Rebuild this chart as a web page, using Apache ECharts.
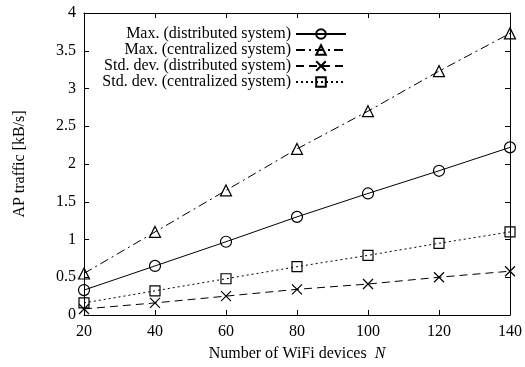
<!DOCTYPE html>
<html>
<head>
<meta charset="utf-8">
<script src="https://cdn.jsdelivr.net/npm/echarts@6/dist/echarts.min.js"></script>
<style>html,body{margin:0;padding:0;background:#fff}#c{width:525px;height:367px}</style>
</head>
<body>
<div id="c"></div>
<script>
const devices = [20, 40, 60, 80, 100, 120, 140];
const maxDistributed = [0.33, 0.65, 0.97, 1.30, 1.61, 1.91, 2.22];
const maxCentralized = [0.55, 1.10, 1.65, 2.20, 2.70, 3.23, 3.73];
const stdDistributed = [0.08, 0.16, 0.25, 0.34, 0.41, 0.50, 0.58];
const stdCentralized = [0.16, 0.32, 0.48, 0.64, 0.79, 0.95, 1.10];
const seriesNames = ['Max. (distributed system)', 'Max. (centralized system)', 'Std. dev. (distributed system)', 'Std. dev. (centralized system)'];
const yTicks = [0, 0.5, 1, 1.5, 2, 2.5, 3, 3.5, 4];

const FONT = 'Liberation Serif';
const FS = 16;
const pair = arr => devices.map((x, i) => [x, arr[i]]);
const chart = echarts.init(document.getElementById('c'), null, {renderer: 'canvas'});
const axisCommon = {
  axisLine: {show: true, onZero: false, lineStyle: {color: '#000', width: 1}},
  axisTick: {show: true, inside: true, length: 5, lineStyle: {color: '#000'}},
  splitLine: {show: false},
  axisLabel: {color: '#000', fontFamily: FONT, fontSize: FS}
};
function mk(name, data, symbol, size, dash) {
  return {
    name: name, type: 'line', data: pair(data), xAxisIndex: 0, yAxisIndex: 0,
    symbol: symbol, symbolSize: size, showAllSymbol: true,
    lineStyle: {color: '#000', width: 1, type: dash},
    itemStyle: {color: 'rgba(0,0,0,0)', borderColor: '#000', borderWidth: 1.2},
    emphasis: {disabled: true}, animation: false
  };
}
chart.setOption({
  animation: false,
  grid: {left: 84, right: 15, top: 13, bottom: 51},
  legend: {
    orient: 'vertical', align: 'right', right: 173, top: 21,
    itemWidth: 50, itemHeight: 12, itemGap: 0,
    textStyle: {fontFamily: FONT, fontSize: FS, color: '#000', lineHeight: 16},
    data: seriesNames
  },
  xAxis: [
    Object.assign({}, axisCommon, {type: 'value', min: 20, max: 140, interval: 20, position: 'bottom',
      axisLabel: {color: '#000', fontFamily: FONT, fontSize: FS, margin: 9},
      name: '{a|Number of WiFi devices  }{b|N}', nameLocation: 'middle', nameGap: 31,
      nameTextStyle: {rich: {a: {fontFamily: FONT, fontSize: FS, color: '#000'}, b: {fontFamily: FONT, fontSize: FS, color: '#000', fontStyle: 'italic'}}}}),
    Object.assign({}, axisCommon, {type: 'value', min: 20, max: 140, interval: 20, position: 'top', axisLabel: {show: false}})
  ],
  yAxis: [
    Object.assign({}, axisCommon, {type: 'value', min: yTicks[0], max: yTicks[yTicks.length - 1], interval: 0.5, position: 'left',
      axisLabel: {color: '#000', fontFamily: FONT, fontSize: FS, margin: 8},
      name: 'AP traffic [kB/s]', nameLocation: 'middle', nameGap: 56,
      nameTextStyle: {fontFamily: FONT, fontSize: FS, color: '#000'}}),
    Object.assign({}, axisCommon, {type: 'value', min: yTicks[0], max: yTicks[yTicks.length - 1], interval: 0.5, position: 'right', axisLabel: {show: false}})
  ],
  series: [
    mk(seriesNames[0], maxDistributed, 'circle', 11, 'solid'),
    mk(seriesNames[1], maxCentralized, 'triangle', 11, [9, 4, 2, 4]),
    mk(seriesNames[2], stdDistributed, 'path://M0,0L10,10M10,0L0,10', 10, [8, 5]),
    mk(seriesNames[3], stdCentralized, 'rect', 10, [2, 3])
  ]
});
</script>
</body>
</html>
